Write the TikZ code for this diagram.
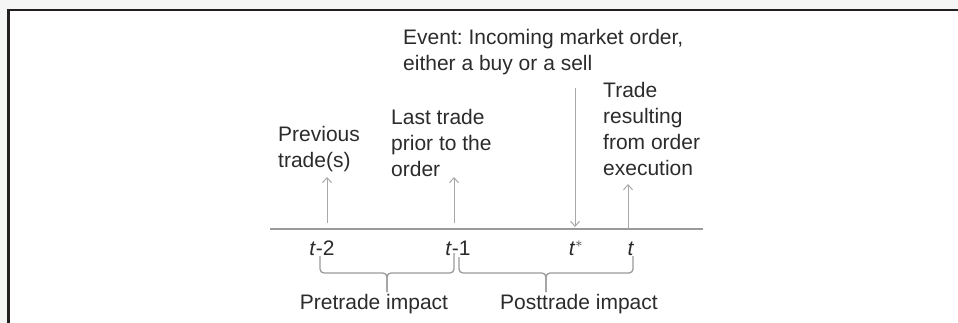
\documentclass[tikz,border=0pt]{standalone}
\usepackage{fontspec}
\setmainfont{Liberation Sans}
\usetikzlibrary{arrows.meta}
\definecolor{txt}{HTML}{2B2B2B}
\definecolor{axis}{HTML}{9A9A9A}
\definecolor{arr}{HTML}{A8A8A8}
\definecolor{frame}{HTML}{231F20}
\newcommand{\mlines}[1]{\begin{tabular}[t]{@{}l@{}}#1\end{tabular}}
\frenchspacing
\begin{document}
\begin{tikzpicture}[x=1pt,y=-1pt,
  lbl/.style={inner sep=0pt,anchor=base west,text=txt,font=\fontsize{21}{25.7}\selectfont},
  tlbl/.style={inner sep=0pt,anchor=base,text=txt,font=\fontsize{21}{25.7}\selectfont},
  upar/.style={draw=arr,line width=1pt,-{Straight Barb[length=5pt,width=9pt]}},
  brc/.style={draw=axis,line width=1.3pt,rounded corners=4pt}]
\useasboundingbox (0,0) rectangle (958,323);
\fill[black!4] (0,0) rectangle (958,9);
\fill[black!4] (0,0) rectangle (7,323);
\draw[frame,line width=2.5pt] (8.25,323) -- (8.25,10.25) -- (958,10.25);
% axis
\coordinate (a0) at (270,229);
\coordinate (a1) at (703,229);
\draw[axis,line width=2pt] (a0) -- (a1);
% labels
\node[lbl] (prev) at (278,142) {\mlines{Previous\\trade(s)}};
\node[lbl] (last) at (391,125) {\mlines{Last trade\\prior to the\\order}};
\node[lbl] (event) at (403,45) {\mlines{Event: Incoming market order,\\either a buy or a sell}};
\node[lbl] (res) at (603,98) {\mlines{Trade\\resulting\\from order\\execution}};
% arrows
\coordinate (p0) at (327,223); \coordinate (p1) at (327,177);
\coordinate (q0) at (454,223); \coordinate (q1) at (454,177);
\coordinate (e0) at (575,88);  \coordinate (e1) at (575,227);
\coordinate (r0) at (628,228); \coordinate (r1) at (628,184);
\draw[upar] (p0) -- (p1);
\draw[upar] (q0) -- (q1);
\draw[upar] (e0) -- (e1);
\draw[upar] (r0) -- (r1);
% time labels
\node[tlbl] (t2) at (322,255) {\textit{t}-2};
\node[tlbl] (t1) at (458,255) {\textit{t}-1};
\node[tlbl] (ts) at (576,255) {\textit{t}$^{\mathrm{*}}$};
\node[tlbl] (t0) at (631,255) {\textit{t}};
% braces
\draw[brc] (320,256) -- (320,273) -- (387,273) -- (387,292);
\draw[brc] (454,253) -- (454,273) -- (387,273) -- (387,292);
\draw[brc] (459,257) -- (459,273) -- (546,273) -- (546,292);
\draw[brc] (633,256) -- (633,273) -- (546,273) -- (546,292);
\node[tlbl] (pre) at (374,309) {Pretrade impact};
\node[tlbl] (post) at (579,309) {Posttrade impact};
\end{tikzpicture}
\end{document}
